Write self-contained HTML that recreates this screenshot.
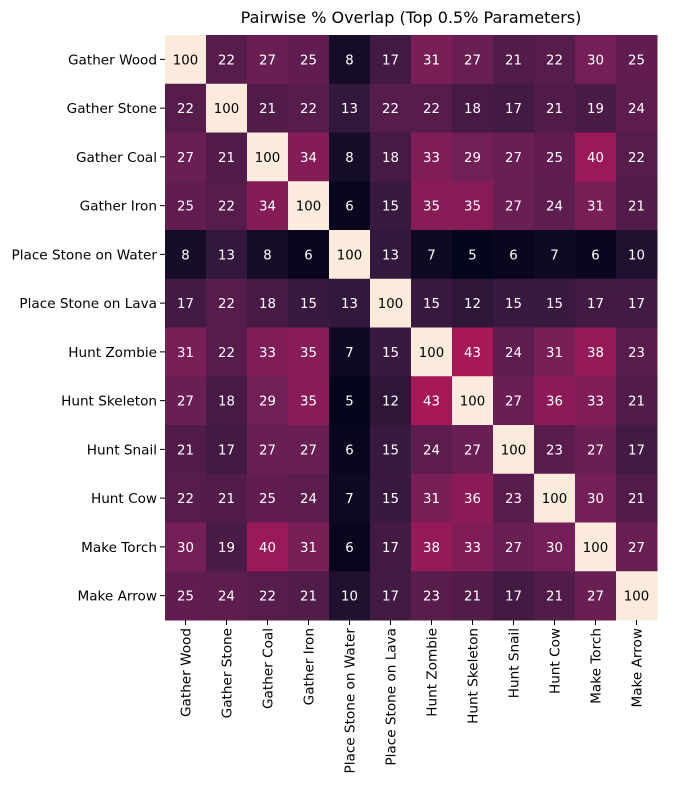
<!DOCTYPE html>
<html><head><meta charset="utf-8"><style>
body{margin:0;background:#fff;}
svg text{font-family:"DejaVu Sans","Liberation Sans",sans-serif;}
</style></head><body>
<svg id="chart" width="674" height="790">
<text x="411" y="23" text-anchor="middle" font-size="16">Pairwise % Overlap (Top 0.5% Parameters)</text>
<g id="cells"></g><g id="yaxis"></g><g id="xaxis"></g>
</svg>
<script>
const labels=["Gather Wood","Gather Stone","Gather Coal","Gather Iron","Place Stone on Water","Place Stone on Lava","Hunt Zombie","Hunt Skeleton","Hunt Snail","Hunt Cow","Make Torch","Make Arrow"];
const row0=[100,22,27,25,8,17,31,27,21,22,30,25];
const row1=[22,100,21,22,13,22,22,18,17,21,19,24];
const row2=[27,21,100,34,8,18,33,29,27,25,40,22];
const row3=[25,22,34,100,6,15,35,35,27,24,31,21];
const row4=[8,13,8,6,100,13,7,5,6,7,6,10];
const row5=[17,22,18,15,13,100,15,12,15,15,17,17];
const row6=[31,22,33,35,7,15,100,43,24,31,38,23];
const row7=[27,18,29,35,5,12,43,100,27,36,33,21];
const row8=[21,17,27,27,6,15,24,27,100,23,27,17];
const row9=[22,21,25,24,7,15,31,36,23,100,30,21];
const row10=[30,19,40,31,6,17,38,33,27,30,100,27];
const row11=[25,24,22,21,10,17,23,21,17,21,27,100];
const values=[row0,row1,row2,row3,row4,row5,row6,row7,row8,row9,row10,row11];
const L=165,R=657,T=35,B=620;
const n=labels.length, cw=(R-L)/n, ch=(B-T)/n;
const flat=values.flat(), vmin=Math.min(...flat), vmax=Math.max(...flat);
const stops=[[0,[3,5,26]],[0.083,[50,24,60]],[0.25,[112,31,87]],[0.417,[173,23,89]],[0.583,[225,51,66]],[0.75,[243,118,81]],[0.917,[246,180,143]],[1,[250,235,221]]];
function cmap(v){let t=(v-vmin)/(vmax-vmin);for(let i=1;i<stops.length;i++){if(t<=stops[i][0]){const a=stops[i-1],b=stops[i];const f=(t-a[0])/(b[0]-a[0]);const c=a[1].map((x,k)=>Math.round(x+(b[1][k]-x)*f));return {c:`rgb(${c})`,lum:(0.299*c[0]+0.587*c[1]+0.114*c[2])};}}return {c:'rgb(250,235,221)',lum:240};}
const NS="http://www.w3.org/2000/svg";
const gc=document.getElementById('cells'),gy=document.getElementById('yaxis'),gx=document.getElementById('xaxis');
function mk(tag,attrs,parent){const e=document.createElementNS(NS,tag);for(const k in attrs)e.setAttribute(k,attrs[k]);parent.appendChild(e);return e;}
values.forEach((row,i)=>row.forEach((v,j)=>{
 const col=cmap(v);
 const r=mk('rect',{x:L+j*cw,y:T+i*ch,width:cw+0.5,height:ch+0.5,fill:col.c},gc);
 
 
 const t=mk('text',{x:L+(j+0.5)*cw,y:T+(i+0.5)*ch+5,'text-anchor':'middle','font-size':'13.3',fill:col.lum>128?'#000':'#fff'},gc);
 t.textContent=v;
 
 
}));
labels.forEach((lab,i)=>{
 const y=T+(i+0.5)*ch;
 mk('line',{x1:L-5,x2:L,y1:y,y2:y,stroke:'#000','stroke-width':1},gy);
 const t=mk('text',{x:L-8,y:y+5,'text-anchor':'end','font-size':'13.6'},gy);
 t.textContent=lab;
 
 
 const x=L+(i+0.5)*cw;
 mk('line',{x1:x,x2:x,y1:B,y2:B+5,stroke:'#000','stroke-width':1},gx);
 const u=mk('text',{x:0,y:0,'text-anchor':'end','font-size':'13.6',transform:`translate(${x+5},${B+8}) rotate(-90)`},gx);
 u.textContent=lab;
 
 
});
</script>
</body></html>
